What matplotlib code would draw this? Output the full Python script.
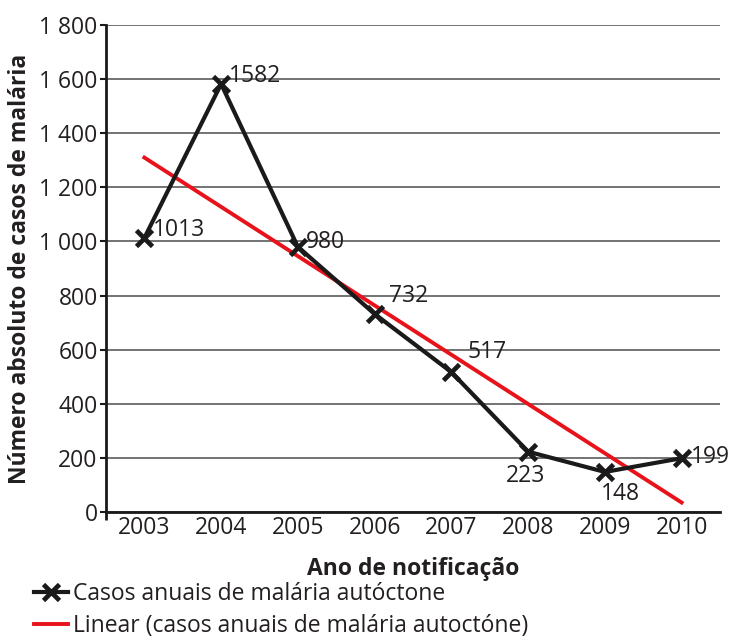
import matplotlib
matplotlib.use("Agg")
import matplotlib.pyplot as plt

# Data
years = ["2003", "2004", "2005", "2006", "2007", "2008", "2009", "2010"]
cases = [1013, 1582, 980, 732, 517, 223, 148, 199]
# Trend line as drawn in the reference (start / end values)
trend_values = [1310, 35]
y_ticks = [0, 200, 400, 600, 800, 1000, 1200, 1400, 1600, 1800]
y_tick_labels = ["0", "200", "400", "600", "800", "1 000", "1 200", "1 400", "1 600", "1 800"]

# Label offsets in pixels (dx, dy) and alignment for each data label
label_offsets = [(9, 8), (8, 8), (8, 5), (14, 18), (16, 20), (-3, -24), (16, -22), (9, 1)]
label_ha = ["left", "left", "left", "left", "left", "center", "center", "left"]

plt.rcParams['font.family'] = ['Open Sans', 'DejaVu Sans']
text_color = '#231f20'
fs = 16.5

fig = plt.figure(figsize=(7.31, 6.39), dpi=100)
ax = fig.add_axes([106 / 731, 1 - 512 / 639, 614 / 731, 487 / 639])

x = list(range(len(years)))

# Trend line
ax.plot([x[0], x[-1]], trend_values, color='#e8121b', lw=2.8, zorder=3,
        label='Linear (casos anuais de malária autoctóne)')

# Main series
ax.plot(x, cases, color='#1a1a1a', lw=3, marker='x', ms=11, mew=3.4,
        zorder=4, label='Casos anuais de malária autóctone')

for xi, val, (dx, dy), ha in zip(x, cases, label_offsets, label_ha):
    ax.annotate(str(val), (xi, val), xytext=(dx * 0.72, dy * 0.72),
                textcoords='offset points', ha=ha, va='center',
                fontsize=fs, color=text_color, zorder=5)

ax.set_xlim(-0.5, len(years) - 0.5)
ax.set_ylim(0, 1800)
ax.set_xticks(x)
ax.set_xticklabels(years)
ax.set_xticks([-0.5], minor=True)
ax.set_yticks(y_ticks)
ax.set_yticklabels(y_tick_labels)
ax.tick_params(axis='x', which='major', length=0, labelsize=fs,
               labelcolor=text_color, pad=3)
ax.tick_params(axis='x', which='minor', length=6, width=2, color='#1a1a1a')
ax.tick_params(axis='y', length=4, width=1.5, color='#1a1a1a', labelsize=fs,
               labelcolor=text_color, pad=2)

ax.yaxis.grid(True, color='#4d4d4d', lw=1.1)
ax.set_axisbelow(True)
for side in ['top', 'right']:
    ax.spines[side].set_visible(False)
for side in ['left', 'bottom']:
    ax.spines[side].set_linewidth(2)
    ax.spines[side].set_color('#1a1a1a')

ax.set_xlabel('Ano de notificação', fontsize=fs, fontweight='bold',
              color=text_color, labelpad=12)
ax.set_ylabel('Número absoluto de casos de malária', fontsize=fs,
              fontweight='bold', color=text_color, labelpad=5)

handles, labels = ax.get_legend_handles_labels()
fig.legend(handles[::-1], labels[::-1], loc='lower left',
           bbox_to_anchor=(0.018, -0.03), frameon=False, fontsize=fs,
           handlelength=1.5, handletextpad=0.2, labelspacing=0.35,
           labelcolor=text_color)

fig.savefig('out.png', dpi=100)
